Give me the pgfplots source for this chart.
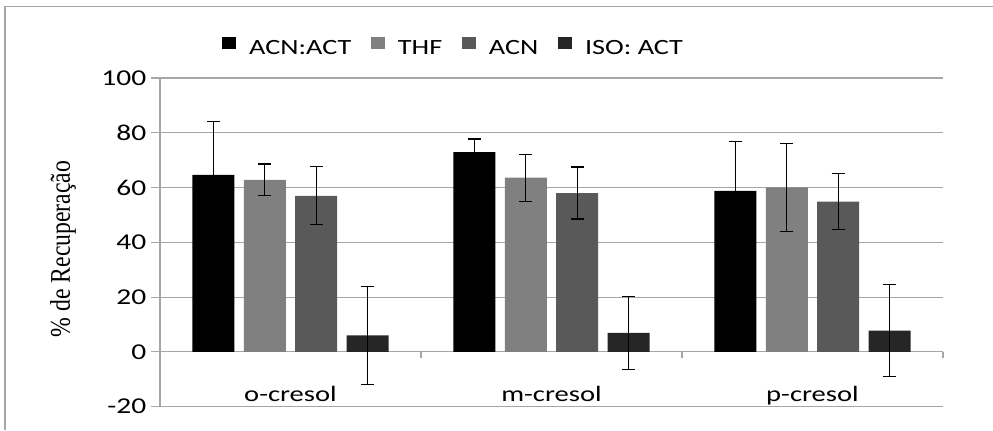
\documentclass[border=0pt]{standalone}
\usepackage{fontspec}
\setmainfont{Carlito}[FakeStretch=1.3]
\newfontfamily\ylabfont{Liberation Serif}
\usepackage{pgfplots}
\pgfplotsset{compat=1.18}
\definecolor{cA}{HTML}{000000}
\definecolor{cB}{HTML}{808080}
\definecolor{cC}{HTML}{595959}
\definecolor{cD}{HTML}{262626}
\definecolor{gridc}{HTML}{A6A6A6}
\begin{document}
\begin{tikzpicture}
\useasboundingbox (-120pt,-17.5pt) rectangle (624.75pt,305pt);
\draw[gray!70, line width=0.8pt] (-116.25pt,-17.5pt) -- (-116.25pt,299.8pt) -- (624.75pt,299.8pt);
\begin{axis}[
  at={(0,0)}, anchor=south west, scale only axis,
  width=587.25pt, height=246.5pt, clip=false,
  ymin=-20, ymax=100, ytick={-20,0,20,40,60,80,100},
  xmin=0.5, xmax=3.5, xtick={1,2,3},
  xticklabels={o-cresol,m-cresol,p-cresol},
  axis lines*=left,
  axis line style={draw=gridc, line width=0.8pt},
  ymajorgrids, grid style={draw=gridc, line width=0.8pt},
  tick align=outside, major tick length=6.75pt,
  y tick style={draw=gridc, line width=0.8pt},
  x tick style={draw=none},
  /pgf/number format/assume math mode=true,
  yticklabel style={font=\fontsize{17}{20}\selectfont},
  xticklabel style={font=\fontsize{16.5}{19}\selectfont, anchor=base, yshift=10.5pt},
  ybar=7.1pt, bar width=31.5pt,
  legend columns=4,
  legend style={at={(0.3755,1.091)}, anchor=center, draw=none, fill=none,
    font=\fontsize{16.3}{19}\selectfont,
    /tikz/every odd column/.append style={column sep=8pt},
    /tikz/every even column/.append style={column sep=13pt}},
  legend image code/.code={\fill[#1] (0pt,-0.5pt) rectangle (10pt,9pt);},
  error bars/y dir=both, error bars/y explicit,
  error bars/error bar style={black, line width=0.9pt},
  error bars/error mark options={black, line width=0.9pt, mark size=4.9pt, rotate=90},
]
\draw[gridc, line width=0.8pt] (axis cs:0.5,0) -- (axis cs:3.5,0);
\draw[gridc, line width=0.8pt] (axis cs:1.5,0) -- ([yshift=-4.5pt]axis cs:1.5,0);
\draw[gridc, line width=0.8pt] (axis cs:2.5,0) -- ([yshift=-4.5pt]axis cs:2.5,0);
\draw[gridc, line width=0.8pt] (axis cs:3.5,0) -- ([yshift=-4.5pt]axis cs:3.5,0);
\addplot[fill=cA, draw=none] table[x=x, y=y, y error=e] {
x y e
1 64.6 19.6
2 72.9 4.8
3 58.8 18.0
};
\addplot[fill=cB, draw=none] table[x=x, y=y, y error=e] {
x y e
1 62.8 5.8
2 63.6 8.6
3 60.1 16.1
};
\addplot[fill=cC, draw=none] table[x=x, y=y, y error=e] {
x y e
1 57.0 10.6
2 58.0 9.5
3 54.9 10.2
};
\addplot[fill=cD, draw=none] table[x=x, y=y, y error=e] {
x y e
1 6.0 17.8
2 6.9 13.2
3 7.8 16.9
};
\legend{ACN:ACT, THF, ACN, ISO: ACT}
\node[rotate=90, anchor=center, font=\fontsize{17.8}{20}\selectfont\ylabfont] at (rel axis cs:-0.1239,0.48) {\scalebox{1}[1.2]{\% de Recuperação}};
\end{axis}
\end{tikzpicture}
\end{document}
